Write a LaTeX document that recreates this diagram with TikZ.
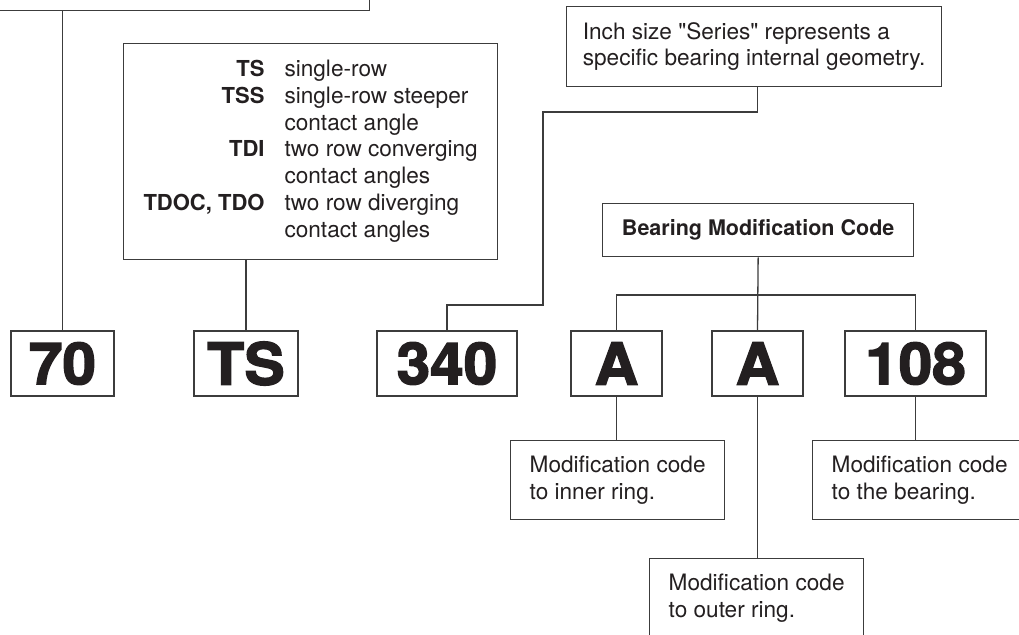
\documentclass[tikz,border=0pt]{standalone}
\usepackage{fontspec}
\setmainfont{TeX Gyre Heros}[Ligatures=TeXOff]
\newfontfamily\codeface{texgyreheros-bold.otf}[FakeBold=2.5,FakeStretch=1.04]
\usepackage{tikz}
\usetikzlibrary{positioning}
\definecolor{ink}{HTML}{231F20}
\definecolor{rule}{HTML}{3C3C3C}
\tikzstyle{box}=[draw=rule,rectangle,line width=1.3pt,inner sep=0pt,text=ink]
\tikzstyle{code}=[box,minimum height=65pt,font=\codefont]
\tikzstyle{note}=[box,anchor=north west,align=left,font=\notefont]
\tikzstyle{link}=[draw=rule,line width=1.3pt]
\def\notefont{\fontsize{22.6}{26.7}\selectfont}
\def\codefont{\fontsize{58}{60}\selectfont\codeface}
\def\kind#1{{\fontsize{22}{26.7}\selectfont\bfseries #1}}

\begin{document}
\begin{tikzpicture}[x=1pt,y=-1pt]
      \useasboundingbox (0,0) rectangle (1019,634);
      \clip (0,0) rectangle (1019,634);
      % upper boxes
      \node [box, anchor=south east, minimum width=420pt, minimum height=40pt] (head) at (370,11) {};
      \node [box, anchor=north west, minimum width=374pt, minimum height=216pt, font=\notefont] (types) at (123,43) {%
        \begin{tabular}{@{}r@{\hspace{20pt}}l@{}}
          \kind{TS} & single-row\\
          \kind{TSS} & single-row steeper\\
           & contact angle\\
          \kind{TDI} & two row converging\\
           & contact angles\\
          \kind{TDOC, TDO} & two row diverging\\
           & contact angles
        \end{tabular}};
      \node [note, minimum width=375pt, minimum height=80pt] (series) at (566,6) {Inch size "Series" represents a\\specific bearing internal geometry.};
      \node [box, anchor=north west, minimum width=311pt, minimum height=53pt, font=\fontsize{21.5}{25}\selectfont\bfseries] (bmc) at (602,203) {Bearing Modification Code};

      % the part number
      \node [code, minimum width=103pt] (c70) at (62.5,363.5) {70};
      \node [code, minimum width=104pt] (cTS) at (246,363.5) {TS};
      \node [code, minimum width=140pt] (c340) at (447,363.5) {340};
      \node [code, minimum width=91pt] (cA1) at (616.5,363.5) {A};
      \node [code, minimum width=91pt] (cA2) at (757.5,363.5) {A};
      \node [code, minimum width=141pt] (c108) at (915.5,363.5) {108};

      % lower boxes
      \node [note, minimum width=214pt, minimum height=79pt] (inner) at (510,440) {Modification code\\to inner ring.};
      \node [note, minimum width=214pt, minimum height=79pt] (outer) at (649,558) {Modification code\\to outer ring.};
      \node [note, minimum width=214pt, minimum height=79pt] (whole) at (812,440) {Modification code\\to the bearing.};

      \coordinate (bendA) at (543,112);
      \coordinate (bendB) at (543,305);
      \coordinate (fork) at (757.5,295);

      \path [link] (c70.north) edge (c70.north |- head.south)
                   (cTS.north) edge (cTS.north |- types.south)
                   (bmc.south) edge (cA2.north)
                   (cA1.south) edge (cA1.south |- inner.north)
                   (cA2.south) edge (cA2.south |- outer.north)
                   (c108.south) edge (c108.south |- whole.north);
      \draw [link] (series.south -| cA2.north) |- (bendA) -- (bendB) -| (c340.north);
      \draw [link] (cA1.north) |- (fork) -| (c108.north);
\end{tikzpicture}
\end{document}
